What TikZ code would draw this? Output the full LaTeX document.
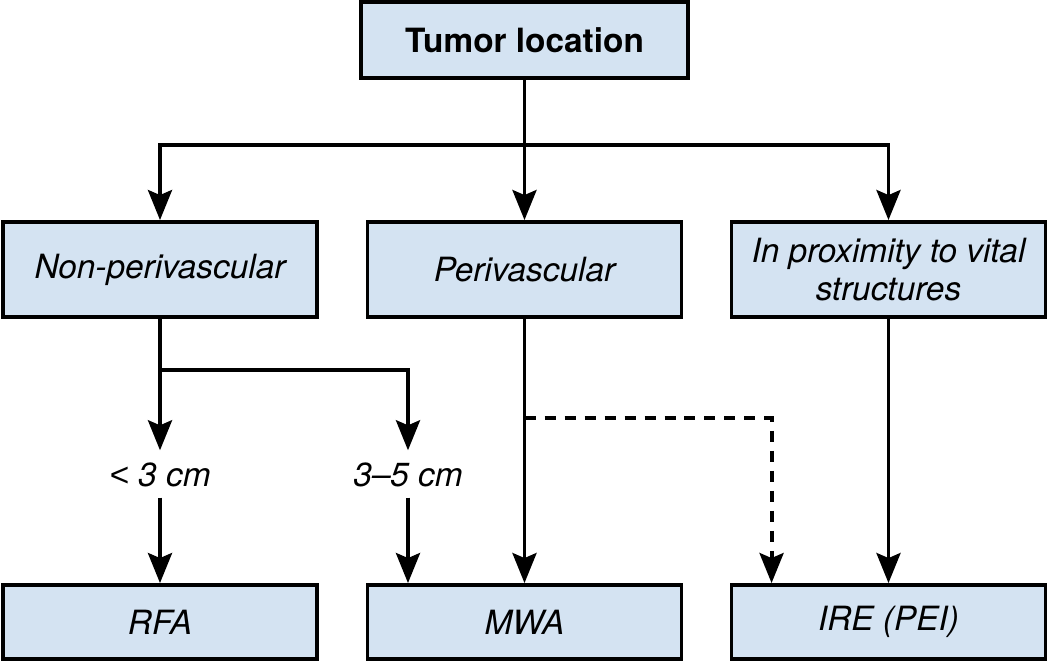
\documentclass[tikz,border=0pt]{standalone}
\usepackage{fontspec}
\setmainfont{TeX Gyre Heros}
\newfontfamily\lessfont{Liberation Sans}
\usetikzlibrary{arrows.meta,positioning,calc}
\definecolor{boxblue}{HTML}{D4E3F2}

\begin{document}
\begin{tikzpicture}[
    every node/.style={font=\fontsize{9.5}{11}\selectfont},
    box/.style={draw, fill=boxblue, line width=1.1pt, minimum height=0.95cm,
                minimum width=3.14cm, align=center, inner sep=1pt},
    lowbox/.style={box, minimum height=0.74cm, font=\fontsize{9.5}{11}\selectfont\itshape},
    size/.style={inner sep=0pt, minimum height=0.46cm, text height=0.25cm,
                 text depth=0pt, font=\fontsize{9.5}{11}\selectfont\itshape},
    arrow/.style={-{Stealth[length=0.3cm, width=0.24cm, inset=0.05cm]}, line width=1.1pt},
    dasharrow/.style={arrow, dash pattern=on 0.11cm off 0.09cm},
  ]
  \useasboundingbox (0,0) rectangle (10.5,-6.61);
  \node[box, minimum width=3.27cm, minimum height=0.76cm, font=\fontsize{9.5}{11}\selectfont\bfseries]
    (loc) at (5.245,-0.40) {Tumor location};
  \node[box, font=\fontsize{9.5}{11}\selectfont\itshape] (nonperi) at (1.60,-2.695) {Non-perivascular};
  \node[box, font=\fontsize{9.5}{11}\selectfont\itshape] (peri) at (5.245,-2.695) {Perivascular};
  \node[box, font=\fontsize{9.5}{10.8}\selectfont\itshape] (prox) at (8.885,-2.695) {In proximity to vital\\structures};
  \node[size] (lt3) at (1.60,-4.74) {{\lessfont\itshape<} 3 cm};
  \node[size] (mid35) at (4.08,-4.74) {3--5 cm};
  \node[lowbox] (rfa) at (1.60,-6.22) {RFA};
  \node[lowbox] (mwa) at (5.245,-6.22) {MWA};
  \node[lowbox] (ire) at (8.885,-6.22) {IRE (PEI)};
  \coordinate (split) at (5.245,-4.18);
  \draw[arrow] (loc.south) -- ++(0,-0.65) -| (nonperi.north);
  \draw[arrow] (loc.south) -- ++(0,-0.65) -| (prox.north);
  \draw[arrow] (loc) -- (peri);
  \draw[arrow] (nonperi.south) -- (lt3.north);
  \draw[arrow] (nonperi.south) -- ++(0,-0.51) -| (mid35.north);
  \draw[arrow] (lt3.south) -- (rfa.north);
  \draw[arrow] (mid35.south) -- (mid35.south |- mwa.north);
  \draw[arrow] (peri) -- (mwa);
  \draw[dasharrow] (split) -| ($(ire.north west)+(0.42,0)$);
  \draw[arrow] (prox) -- (ire);
\end{tikzpicture}
\end{document}
